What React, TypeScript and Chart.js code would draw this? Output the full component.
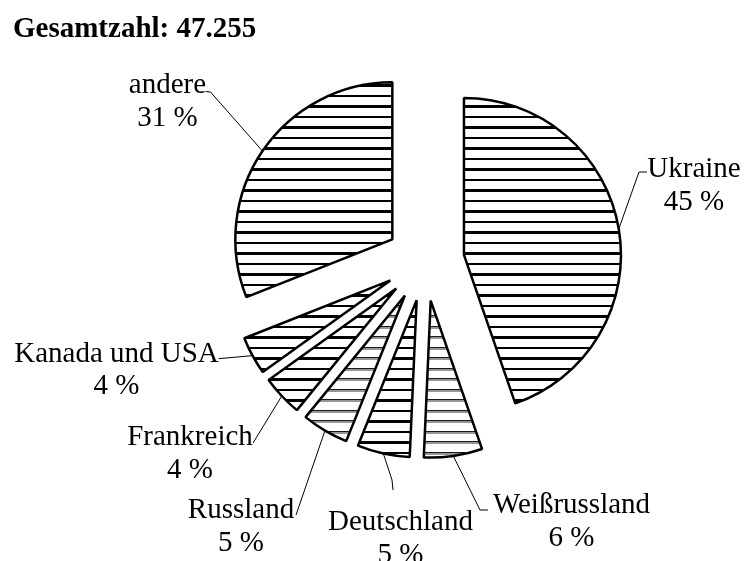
import React, { useEffect, useRef } from "react";
import { Chart, registerables } from "chart.js";

Chart.register(...registerables);

// ---- data ----
const categories = ["Ukraine", "Weißrussland", "Deutschland", "Russland", "Frankreich", "Kanada und USA", "andere"];
const shares = [44.7, 6.0, 5.4, 4.8, 4.2, 3.9, 31.0];
const totalCount = "47.255";
const titleText = "Gesamtzahl: " + totalCount;

// ---- layout / style (not data) ----
const W = 747;
const H = 561;
const PIE_RADIUS = 157;
const EXPLODE = 39.5;
const FONT = '"Liberation Serif", "Times New Roman", serif';
const FONT_SIZE = 29;
const LINE_GAP = 32.5;
// label anchor (center x, first baseline) relative to pie centre
const labelAnchors = [
  [269, -84.5],
  [146.5, 251.5],
  [-24.5, 268.5],
  [-184, 256.5],
  [-235, 183.5],
  [-308.5, 100.2],
  [-257.5, -168.5],
];
// leader line points relative to label anchor, from label side towards the slice
const leaderPoints = [
  [[-47, -5], [-55, -5]],
  [[-83.5, -3], [-91.5, -3]],
  [[-7.5, -40], [-8.5, -50]],
  [[55, -3]],
  [[63, -2]],
  [[102, -3]],
  [[38, -1.5], [43, -1]],
];
const patternKinds = ["dark", "gray", "dark", "gray", "dark", "dark", "dark"];

function makePattern(ctx: CanvasRenderingContext2D, kind: string) {
  const c = document.createElement("canvas");
  c.width = 8;
  c.height = 21;
  const g = c.getContext("2d")!;
  g.fillStyle = "#ffffff";
  g.fillRect(0, 0, 8, 21);
  if (kind === "dark") {
    g.fillStyle = "#000000";
    g.fillRect(0, 0, 8, 3);
    g.fillRect(0, 11, 8, 2);
  } else {
    g.fillStyle = "#1a1a1a";
    g.fillRect(0, 0, 8, 1);
    g.fillRect(0, 11, 8, 1);
    g.fillStyle = "#969696";
    g.fillRect(0, 1, 8, 2);
    g.fillRect(0, 12, 8, 2);
  }
  return ctx.createPattern(c, "repeat") as CanvasPattern;
}

const explodePlugin = {
  id: "explodeSlices",
  afterDatasetUpdate(chart: any, args: any) {
    const meta = chart.getDatasetMeta(args.index);
    meta.data.forEach((arc: any) => {
      const mid = (arc.startAngle + arc.endAngle) / 2;
      arc.x += Math.cos(mid) * EXPLODE;
      arc.y += Math.sin(mid) * EXPLODE;
    });
  },
};

const labelPlugin = {
  id: "sliceLabels",
  afterDraw(chart: any) {
    const ctx: CanvasRenderingContext2D = chart.ctx;
    const area = chart.chartArea;
    const cx = (area.left + area.right) / 2;
    const cy = (area.top + area.bottom) / 2;
    const meta = chart.getDatasetMeta(0);
    const sum = shares.reduce((a, b) => a + b, 0);
    ctx.save();
    // title
    ctx.fillStyle = "#000";
    ctx.textAlign = "left";
    ctx.textBaseline = "alphabetic";
    ctx.font = `bold ${FONT_SIZE}px ${FONT}`;
    ctx.fillText(titleText, 13, 37);

    ctx.font = `${FONT_SIZE}px ${FONT}`;
    ctx.textAlign = "center";
    meta.data.forEach((arc: any, i: number) => {
      const mid = (arc.startAngle + arc.endAngle) / 2;
      const px = arc.x + Math.cos(mid) * arc.outerRadius;
      const py = arc.y + Math.sin(mid) * arc.outerRadius;
      const ax = cx + labelAnchors[i][0];
      const ay = cy + labelAnchors[i][1];
      // leader
      ctx.strokeStyle = "#000";
      ctx.lineWidth = 1;
      ctx.beginPath();
      const pts = leaderPoints[i];
      ctx.moveTo(ax + pts[0][0], ay + pts[0][1]);
      for (let k = 1; k < pts.length; k++) ctx.lineTo(ax + pts[k][0], ay + pts[k][1]);
      ctx.lineTo(px, py);
      ctx.stroke();
      // text
      ctx.fillStyle = "#000";
      ctx.fillText(categories[i], ax, ay);
      ctx.fillText(Math.round((shares[i] / sum) * 100) + " %", ax, ay + LINE_GAP);
    });
    ctx.restore();
  },
};

export default function App() {
  const ref = useRef<HTMLCanvasElement>(null);
  useEffect(() => {
    const canvas = ref.current!;
    const ctx = canvas.getContext("2d")!;
    const chart = new Chart(canvas, {
      type: "pie",
      data: {
        labels: categories,
        datasets: [
          {
            data: shares,
            backgroundColor: patternKinds.map((k) => makePattern(ctx, k)),
            borderColor: "#000000",
            borderWidth: 2.5,
            radius: PIE_RADIUS,
            hoverOffset: 0,
          } as any,
        ],
      },
      options: {
        responsive: false,
        animation: false,
        events: [],
        layout: { padding: { left: 103, right: 0, top: 0, bottom: 38 } },
        plugins: {
          legend: { display: false },
          tooltip: { enabled: false },
          title: { display: false },
        },
      },
      plugins: [explodePlugin, labelPlugin],
    });
    return () => chart.destroy();
  }, []);
  return (
    <div style={{ position: "absolute", left: 0, top: 0, width: W, height: H, background: "#fff" }}>
      <canvas ref={ref} width={W} height={H} style={{ display: "block" }} />
    </div>
  );
}
